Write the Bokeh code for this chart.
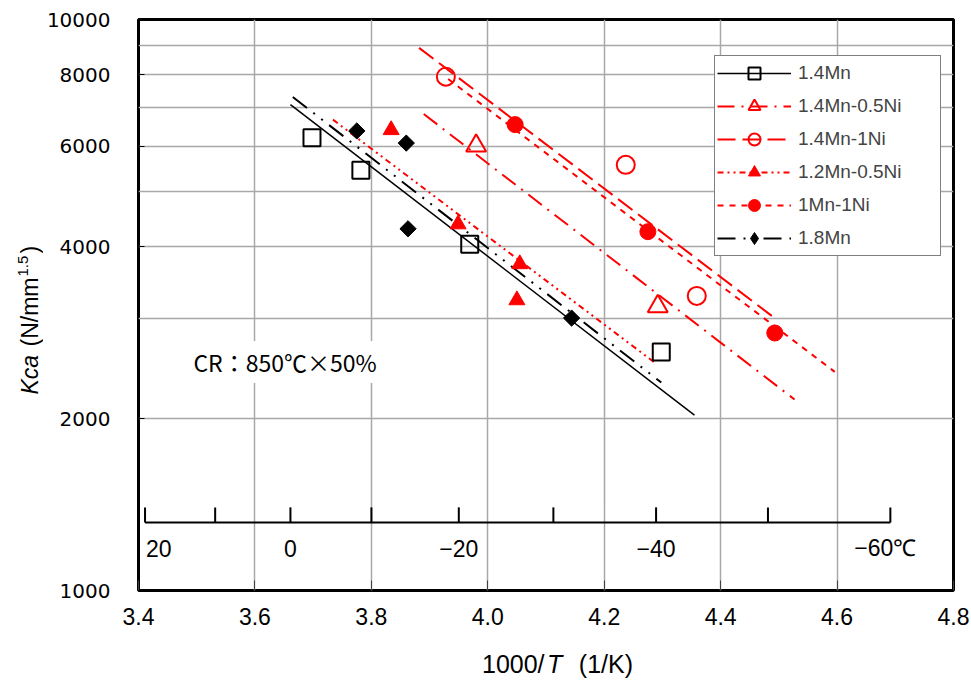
import numpy as np
from bokeh.plotting import figure
from bokeh.layouts import row, column
from bokeh.models import (FixedTicker, NumeralTickFormatter, Legend, LegendItem,
                          Label, Range1d, ColumnDataSource)
from bokeh.core.properties import value
from bokeh.embed import file_html
from bokeh.resources import INLINE

# ---- measured points: x = 1000/T (1/K), y = Kca (N/mm^1.5) ----
mn14_x = [3.698, 3.782, 3.969, 4.298]
mn14_y = [6210, 5445, 4040, 2615]
mn14_ni05_x = [3.980, 4.292]
mn14_ni05_y = [6010, 3145]
mn14_ni1_x = [3.928, 4.237, 4.359]
mn14_ni1_y = [7940, 5565, 3280]
mn12_ni05_x = [3.834, 3.949, 4.055, 4.050]
mn12_ni05_y = [6405, 4380, 3730, 3225]
mn1_ni1_x = [4.047, 4.275, 4.493]
mn1_ni1_y = [6545, 4250, 2825]
mn18_x = [3.775, 3.860, 3.863, 4.144]
mn18_y = [6380, 6075, 4300, 3000]

# ---- fitted trend lines (end points) ----
mn14_fit_x = [3.661, 4.355]
mn14_fit_y = [7095, 2028]
mn14_ni05_fit_x = [3.890, 4.527]
mn14_ni05_fit_y = [6830, 2160]
mn14_ni1_fit_x = [3.882, 4.497]
mn14_ni1_fit_y = [8920, 2977]
mn12_ni05_fit_x = [3.734, 4.290]
mn12_ni05_fit_y = [6677, 2492]
mn1_ni1_fit_x = [3.932, 4.596]
mn1_ni1_fit_y = [7865, 2415]
mn18_fit_x = [3.665, 4.298]
mn18_fit_y = [7318, 2314]

# ---- axes ----
x_ticks = [3.4, 3.6, 3.8, 4.0, 4.2, 4.4, 4.6, 4.8]
y_ticks = [1000, 2000, 4000, 6000, 8000, 10000]
y_grid = [2000, 3000, 4000, 5000, 6000, 7000, 8000, 9000]

# secondary temperature scale (degC)
temps_c = [20, 10, 0, -10, -20, -30, -40, -50, -60]
temp_label_c = [20, 0, -20, -40, -60]
temp_label_text = ["20", "0", "−20", "−40", "−60℃"]

SANS = "'Liberation Sans', Arial, sans-serif"
RED = "#ff0000"

YT_W = 43          # strip holding the rotated y-axis title
XT_H = 40          # strip holding the x-axis title
W, H = 971, 680
MAIN_W, MAIN_H = W - YT_W, H - XT_H
BL, BR, BT, BB = 137 - YT_W, 18, 19, 50

p = figure(width=MAIN_W, height=MAIN_H, y_axis_type="log",
           x_range=Range1d(3.4, 4.8), y_range=Range1d(1000, 10000),
           output_backend="svg", toolbar_location=None,
           min_border_left=BL, min_border_right=BR,
           min_border_top=BT, min_border_bottom=BB)

p.outline_line_color = "black"
p.outline_line_width = 3
p.background_fill_color = "white"

# x axis
p.xaxis.ticker = FixedTicker(ticks=x_ticks)
p.xaxis.formatter = NumeralTickFormatter(format="0.0")
p.xaxis.axis_line_color = None
p.xaxis.major_tick_in = 10
p.xaxis.major_tick_out = 0
p.xaxis.major_tick_line_color = "#404040"
p.xaxis.minor_tick_line_color = None
p.xaxis.major_label_standoff = 17
p.xaxis.major_label_text_font = SANS
p.xaxis.major_label_text_font_size = "23px"
p.xaxis.major_label_text_color = "black"

# y axis
p.yaxis.ticker = FixedTicker(ticks=y_ticks, minor_ticks=[])
p.yaxis.formatter = NumeralTickFormatter(format="0")
p.yaxis.axis_line_color = None
p.yaxis.major_tick_in = 6
p.yaxis.major_tick_out = 0
p.yaxis.minor_tick_line_color = None
p.yaxis.major_label_standoff = 28
p.yaxis.major_label_text_font = "DejaVu Sans"
p.yaxis.major_label_text_font_size = "20px"
p.yaxis.major_label_text_color = "black"

# grid
p.xgrid.ticker = FixedTicker(ticks=x_ticks[1:-1])
p.ygrid.ticker = FixedTicker(ticks=y_grid)
p.grid.grid_line_color = "#a8a8a8"
p.grid.grid_line_width = 1.5

# temperature scale drawn inside the plot
t_x = [1000.0 / (t + 273.15) for t in temps_c]
T_AXIS_Y = 1316.0
T_TICK_Y = T_AXIS_Y * 10 ** (15 / 570)
T_TEXT_Y = 1185.0
p.segment(x0=t_x[0], y0=T_AXIS_Y, x1=t_x[-1], y1=T_AXIS_Y, line_color="black", line_width=2)
p.segment(x0=t_x, y0=[T_AXIS_Y] * len(t_x), x1=t_x, y1=[T_TICK_Y] * len(t_x),
          line_color="black", line_width=2)
lab_x = [1000.0 / (t + 273.15) for t in temp_label_c]
tsrc = ColumnDataSource(dict(x=lab_x, y=[T_TEXT_Y] * len(lab_x), text=temp_label_text,
                             align=["left", "center", "center", "center", "center"],
                             dx=[1, 0, 0, 0, -5]))
p.text(x="x", y="y", text="text", source=tsrc, text_align="align", x_offset="dx",
       text_baseline="middle", text_font=value(SANS), text_font_size="23px",
       text_color="black")

series = [
    ("1.4Mn", mn14_x, mn14_y, mn14_fit_x, mn14_fit_y,
     dict(line_color="black", line_width=1.5, line_dash="solid"),
     dict(marker="square", size=17, fill_color=None, line_color="black", line_width=2)),
    ("1.4Mn-0.5Ni", mn14_ni05_x, mn14_ni05_y, mn14_ni05_fit_x, mn14_ni05_fit_y,
     dict(line_color=RED, line_width=2, line_dash="17 7 2 7"),
     dict(marker="triangle", size=20, fill_color=None, line_color=RED, line_width=2)),
    ("1.4Mn-1Ni", mn14_ni1_x, mn14_ni1_y, mn14_ni1_fit_x, mn14_ni1_fit_y,
     dict(line_color=RED, line_width=2, line_dash="18 7"),
     dict(marker="circle", size=18, fill_color=None, line_color=RED, line_width=2)),
    ("1.2Mn-0.5Ni", mn12_ni05_x, mn12_ni05_y, mn12_ni05_fit_x, mn12_ni05_fit_y,
     dict(line_color=RED, line_width=2, line_dash="6 4 2 4 2 4"),
     dict(marker="triangle", size=16, fill_color=RED, line_color=RED, line_width=1)),
    ("1Mn-1Ni", mn1_ni1_x, mn1_ni1_y, mn1_ni1_fit_x, mn1_ni1_fit_y,
     dict(line_color=RED, line_width=2, line_dash="6 6"),
     dict(marker="circle", size=16, fill_color=RED, line_color=RED, line_width=1)),
    ("1.8Mn", mn18_x, mn18_y, mn18_fit_x, mn18_fit_y,
     dict(line_color="black", line_width=2, line_dash="18 8 2 8 2 8"),
     dict(marker="square", size=11.5, angle=np.pi / 4, fill_color="black",
          line_color="black", line_width=1)),
]

# trend lines first, markers on top
line_rs = [p.line(fx, fy, **ls) for (_, _, _, fx, fy, ls, _) in series]

items = []
for (name, px, py, fx, fy, ls, ms), lr in zip(series, line_rs):
    sr = p.scatter(px, py, **ms)
    if name == "1.8Mn":
        # legend swatch: diamond symbol (nothing drawn in the plot area)
        sr = p.scatter([np.nan], [np.nan], marker="diamond", size=12,
                       fill_color="black", line_color="black", line_width=1)
    items.append(LegendItem(label=name, renderers=[lr, sr]))

legend = Legend(items=items, location=(576, 334),
                label_text_font=SANS, label_text_font_size="19px",
                glyph_width=74, glyph_height=30, label_height=20,
                label_standoff=7, label_width=140, spacing=3, padding=2,
                border_line_color="black", border_line_width=1.5,
                background_fill_color="white", background_fill_alpha=1.0)
p.add_layout(legend, "center")

# process note
p.add_layout(Label(x=3.4875, y=2512, text="CR：850℃×50%", text_baseline="middle",
                   text_align="left", text_font="'Noto Sans CJK JP', sans-serif",
                   text_font_size="23px", text_color="black",
                   background_fill_color="white", padding=4))

# ---- x-axis title strip: 1000/T (1/K) ----
xt = figure(width=MAIN_W, height=XT_H, x_range=p.x_range, y_range=Range1d(0, XT_H),
            output_backend="svg", toolbar_location=None,
            x_axis_location=None, y_axis_location=None,
            min_border_left=BL, min_border_right=BR, min_border_top=0, min_border_bottom=0)
xt.outline_line_color = None
xt.grid.visible = False


def xpx(px):
    return 3.4 + (px - 137) / 583.0


xt_src = ColumnDataSource(dict(x=[xpx(481), xpx(546), xpx(578)], y=[17, 17, 17],
                               text=["1000/", "T", "(1/K)"],
                               style=["normal", "italic", "normal"]))
xt.text(x="x", y="y", text="text", source=xt_src, text_font_style="style",
        text_font=value(SANS), text_font_size="25px", text_baseline="middle",
        text_align="left", text_color="black")

# ---- y-axis title strip: Kca (N/mm^1.5) ----
yt = figure(width=YT_W, height=H, x_range=Range1d(0, YT_W), y_range=Range1d(0, H),
            output_backend="svg", toolbar_location=None,
            x_axis_location=None, y_axis_location=None,
            min_border=0)
yt.outline_line_color = None
yt.grid.visible = False
yt_src = ColumnDataSource(dict(
    x=[29, 29, 22, 29],
    y=[H - 394, H - 346, H - 276, H - 253],
    text=["Kca", "(N/mm", "1.5", ")"],
    size=["23px", "23px", "15px", "23px"],
    style=["italic", "normal", "normal", "normal"]))
yt.text(x="x", y="y", text="text", source=yt_src, angle=np.pi / 2,
        text_font=value(SANS), text_font_size="size", text_font_style="style",
        text_baseline="middle", text_align="left", text_color="black")

layout = row(yt, column(p, xt, spacing=0), spacing=0)
open("out.html", "w").write(file_html(layout, INLINE))
